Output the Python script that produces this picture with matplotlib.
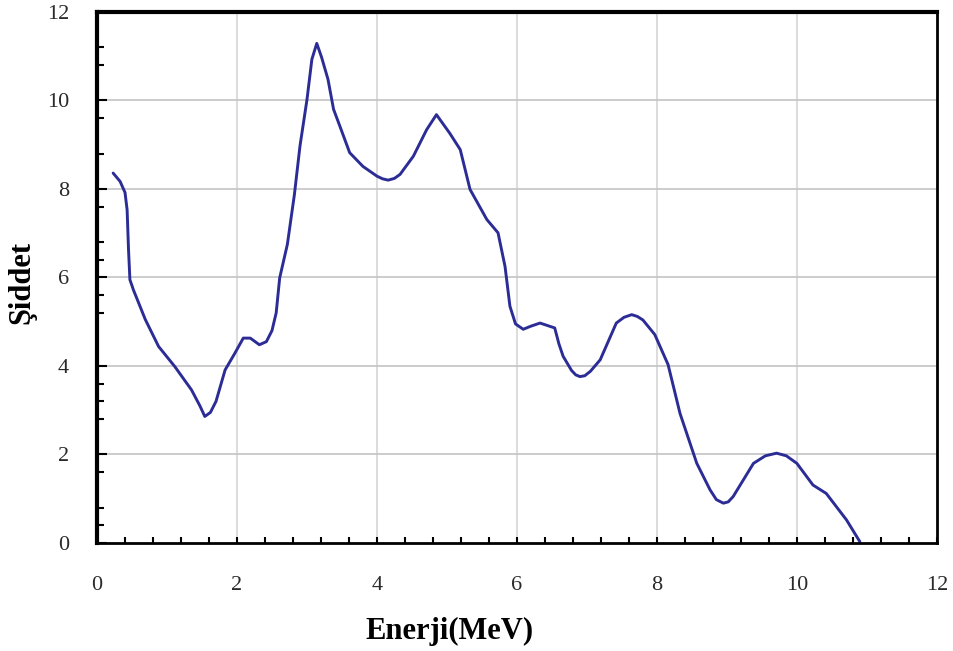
import matplotlib.pyplot as plt
import numpy as np
from matplotlib.ticker import MultipleLocator, FixedLocator

# Spectrum
enerji = [0.23, 0.33, 0.40, 0.43, 0.45, 0.47, 0.52, 0.69, 0.88, 1.11, 1.35, 1.47, 1.54,
          1.62, 1.70, 1.83, 1.97, 2.09, 2.19, 2.32, 2.42, 2.50, 2.56, 2.61, 2.72, 2.82,
          2.90, 3.00, 3.07, 3.14, 3.21, 3.30, 3.38, 3.47, 3.61, 3.80, 4.00, 4.08, 4.16,
          4.25, 4.33, 4.52, 4.71, 4.85, 5.04, 5.19, 5.33, 5.45, 5.57, 5.73, 5.83, 5.90,
          5.98, 6.09, 6.20, 6.33, 6.54, 6.60, 6.66, 6.78, 6.84, 6.90, 6.97, 7.05, 7.19,
          7.42, 7.53, 7.64, 7.72, 7.80, 7.97, 8.16, 8.33, 8.57, 8.76, 8.85, 8.95, 9.02,
          9.09, 9.38, 9.55, 9.71, 9.85, 10.00, 10.23, 10.42, 10.71, 10.90]
siddet = [8.36, 8.17, 7.92, 7.53, 6.63, 5.95, 5.72, 5.05, 4.44, 3.99, 3.46, 3.10, 2.86,
          2.95, 3.20, 3.91, 4.29, 4.63, 4.63, 4.48, 4.55, 4.80, 5.20, 5.99, 6.75, 7.87,
          8.97, 10.02, 10.93, 11.29, 10.97, 10.48, 9.80, 9.42, 8.82, 8.51, 8.29, 8.23, 8.20,
          8.24, 8.33, 8.74, 9.34, 9.68, 9.26, 8.89, 7.99, 7.65, 7.31, 7.01, 6.25, 5.35,
          4.95, 4.83, 4.90, 4.97, 4.86, 4.50, 4.22, 3.90, 3.80, 3.76, 3.78, 3.88, 4.14,
          4.97, 5.10, 5.16, 5.12, 5.04, 4.71, 4.03, 2.93, 1.80, 1.20, 0.98, 0.90, 0.93,
          1.05, 1.80, 1.97, 2.03, 1.97, 1.80, 1.31, 1.12, 0.52, 0.03]

x_ticks = [0, 2, 4, 6, 8, 10, 12]
y_ticks = [0, 2, 4, 6, 8, 10, 12]
y_minor = [0.4, 0.8, 1.6, 2.8, 3.2, 3.6, 5.2, 5.6, 6.4, 6.8, 7.6, 8.8, 9.6, 10.8, 11.2]

plt.rcParams['font.family'] = ['Liberation Serif', 'DejaVu Serif']

fig = plt.figure(figsize=(9.54, 6.51), dpi=100)
ax = fig.add_axes([0.1017, 0.1659, 0.8803, 0.8157])

ax.plot(enerji, siddet, color='#2c2c96', linewidth=2.1,
        solid_joinstyle='round', solid_capstyle='round')

ax.set_xlim(0, 12)
ax.set_ylim(0, 12)
ax.set_xticks(x_ticks)
ax.set_yticks(y_ticks)
ax.xaxis.set_minor_locator(MultipleLocator(0.4))
ax.yaxis.set_minor_locator(FixedLocator(y_minor))

# grid: vertical lines lighter than horizontal ones
for v in x_ticks[1:-1]:
    ax.axvline(v, color='#dcdcdc', linewidth=1.4, zorder=0)
for h in y_ticks[1:-1]:
    ax.axhline(h, color='#c4c4c4', linewidth=1.2, zorder=0)

ax.tick_params(axis='both', which='both', direction='in', color='black')
ax.tick_params(axis='x', which='major', length=4, width=1.5, pad=24, labelsize=16, labelcolor='#2a2a2a')
ax.tick_params(axis='x', which='minor', length=4, width=1.5)
ax.tick_params(axis='y', which='major', length=7, width=1.5, pad=20, labelsize=16, labelcolor='#2a2a2a')
ax.tick_params(axis='y', which='minor', length=5, width=1.5)

for side, lw in [('top', 3), ('left', 3), ('bottom', 2), ('right', 2)]:
    ax.spines[side].set_linewidth(lw)
    ax.spines[side].set_color('black')

ax.set_xlabel('Enerji(MeV)', fontsize=22, fontweight='bold')
ax.xaxis.set_label_coords(0.42, -0.14)
ax.set_ylabel('Şiddet', fontsize=22, fontweight='bold')
ax.yaxis.set_label_coords(-0.072, 0.49)

fig.savefig('out.png', dpi=100)
